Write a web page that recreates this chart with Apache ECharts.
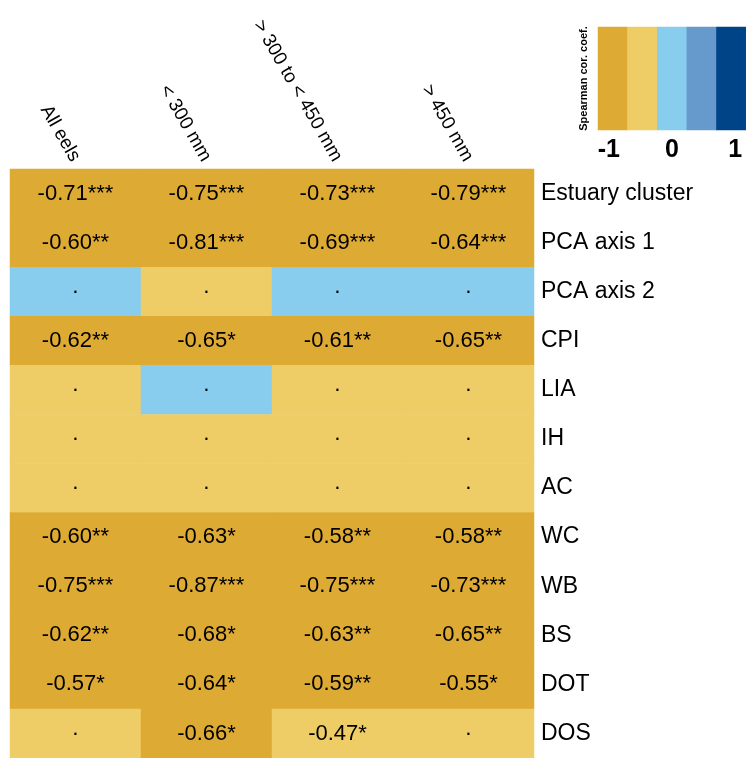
<!DOCTYPE html>
<html>
<head>
<meta charset="utf-8">
<script src="https://cdn.jsdelivr.net/npm/echarts@6/dist/echarts.min.js"></script>
<style>
html,body{margin:0;padding:0;background:#fff;}
#chart{width:746px;height:758px;}
</style>
</head>
<body>
<div id="chart"></div>
<script>
// Columns (size classes) and rows (predictors)
const groups = ['All eels', '< 300 mm', '> 300 to < 450 mm', '> 450 mm'];
const predictors = ['Estuary cluster', 'PCA axis 1', 'PCA axis 2', 'CPI', 'LIA', 'IH', 'AC', 'WC', 'WB', 'BS', 'DOT', 'DOS'];

// Spearman coefficients per column (non-significant values)
const rhoAll   = [-0.71, -0.60, 0.05, -0.62, -0.30, -0.30, -0.30, -0.60, -0.75, -0.62, -0.57, -0.30];
const rhoLt300 = [-0.75, -0.81, -0.30, -0.65, 0.05, -0.30, -0.30, -0.63, -0.87, -0.68, -0.64, -0.66];
const rho300to450 = [-0.73, -0.69, 0.05, -0.61, -0.30, -0.30, -0.30, -0.58, -0.75, -0.63, -0.59, -0.47];
const rhoGt450 = [-0.79, -0.64, 0.05, -0.65, -0.30, -0.30, -0.30, -0.58, -0.73, -0.65, -0.55, -0.30];

// Significance stars ('' = not significant, shown as a dot)
const sigAll   = ['***', '**', '', '**', '', '', '', '**', '***', '**', '*', ''];
const sigLt300 = ['***', '***', '', '*', '', '', '', '*', '***', '*', '*', '*'];
const sig300to450 = ['***', '***', '', '**', '', '', '', '**', '***', '**', '**', '*'];
const sigGt450 = ['***', '***', '', '**', '', '', '', '**', '***', '**', '*', ''];

// Colour scale legend
const legendBins = ['b1', 'b2', 'b3', 'b4', 'b5'];
const legendValues = [-0.8, -0.3, 0.1, 0.5, 0.9];
const legendTicks = [-1, 0, 1];
const legendTitle = 'Spearman cor. coef.';

const rhoCols = [rhoAll, rhoLt300, rho300to450, rhoGt450];
const sigCols = [sigAll, sigLt300, sig300to450, sigGt450];

const cellData = [];
rhoCols.forEach((col, ci) => {
  col.forEach((v, ri) => {
    cellData.push({ value: [ci, ri, v], sig: sigCols[ci][ri] });
  });
});
const legendData = legendValues.map((v, i) => [i, 0, v]);

const chart = echarts.init(document.getElementById('chart'));
const FONT = 'Liberation Sans, Arial, sans-serif';

chart.setOption({
  backgroundColor: '#ffffff',
  animation: false,
  grid: [
    { left: 10, right: 212, top: 169, bottom: -8 },
    { left: 598, right: 0, top: 27, height: 103 }
  ],
  xAxis: [
    {
      type: 'category', data: groups, gridIndex: 0, position: 'top',
      axisLine: { show: false }, axisTick: { show: false }, splitLine: { show: false },
      axisLabel: { rotate: 60, margin: 9, color: '#000', fontSize: 19, fontFamily: FONT, interval: 0 }
    },
    {
      type: 'category', data: legendBins, gridIndex: 1,
      axisLine: { show: false }, axisTick: { show: false }, axisLabel: { show: false }, splitLine: { show: false }
    },
    {
      type: 'value', gridIndex: 1, min: -1.17, max: 1.17, position: 'bottom',
      axisLine: { show: false }, axisTick: { show: false }, splitLine: { show: false },
      axisLabel: { customValues: legendTicks, margin: 8, color: '#000', fontSize: 25, fontWeight: 'bold', fontFamily: FONT,
        formatter: v => String(Math.round(v)) }
    }
  ],
  yAxis: [
    {
      type: 'category', data: predictors, gridIndex: 0, inverse: true, position: 'right',
      axisLine: { show: false }, axisTick: { show: false }, splitLine: { show: false },
      axisLabel: { margin: 7, color: '#000', fontSize: 23, fontFamily: FONT, align: 'left' }
    },
    {
      type: 'category', data: [''], gridIndex: 1,
      axisLine: { show: false }, axisTick: { show: false }, axisLabel: { show: false }, splitLine: { show: false },
      name: legendTitle, nameLocation: 'middle', nameRotate: 90, nameGap: 9,
      nameTextStyle: { color: '#000', fontSize: 11, fontWeight: 'bold', fontFamily: FONT }
    }
  ],
  visualMap: {
    type: 'piecewise', show: false, seriesIndex: [0, 1], dimension: 2,
    pieces: [
      { lt: -0.5, color: '#DDAA33' },
      { gte: -0.5, lt: -0.15, color: '#EECC66' },
      { gte: -0.15, lt: 0.3, color: '#88CCEE' },
      { gte: 0.3, lt: 0.7, color: '#6699CC' },
      { gte: 0.7, color: '#004488' }
    ]
  },
  series: [
    {
      type: 'heatmap', xAxisIndex: 0, yAxisIndex: 0, data: cellData,
      label: {
        show: true, color: '#000', fontSize: 22, fontFamily: FONT,
        formatter: p => p.data.sig ? p.data.value[2].toFixed(2) + p.data.sig : '·'
      },
      itemStyle: { borderWidth: 0 },
      emphasis: { disabled: true }
    },
    {
      type: 'heatmap', xAxisIndex: 1, yAxisIndex: 1, data: legendData,
      label: { show: false }, itemStyle: { borderWidth: 0 }, emphasis: { disabled: true }
    }
  ]
});
</script>
</body>
</html>
